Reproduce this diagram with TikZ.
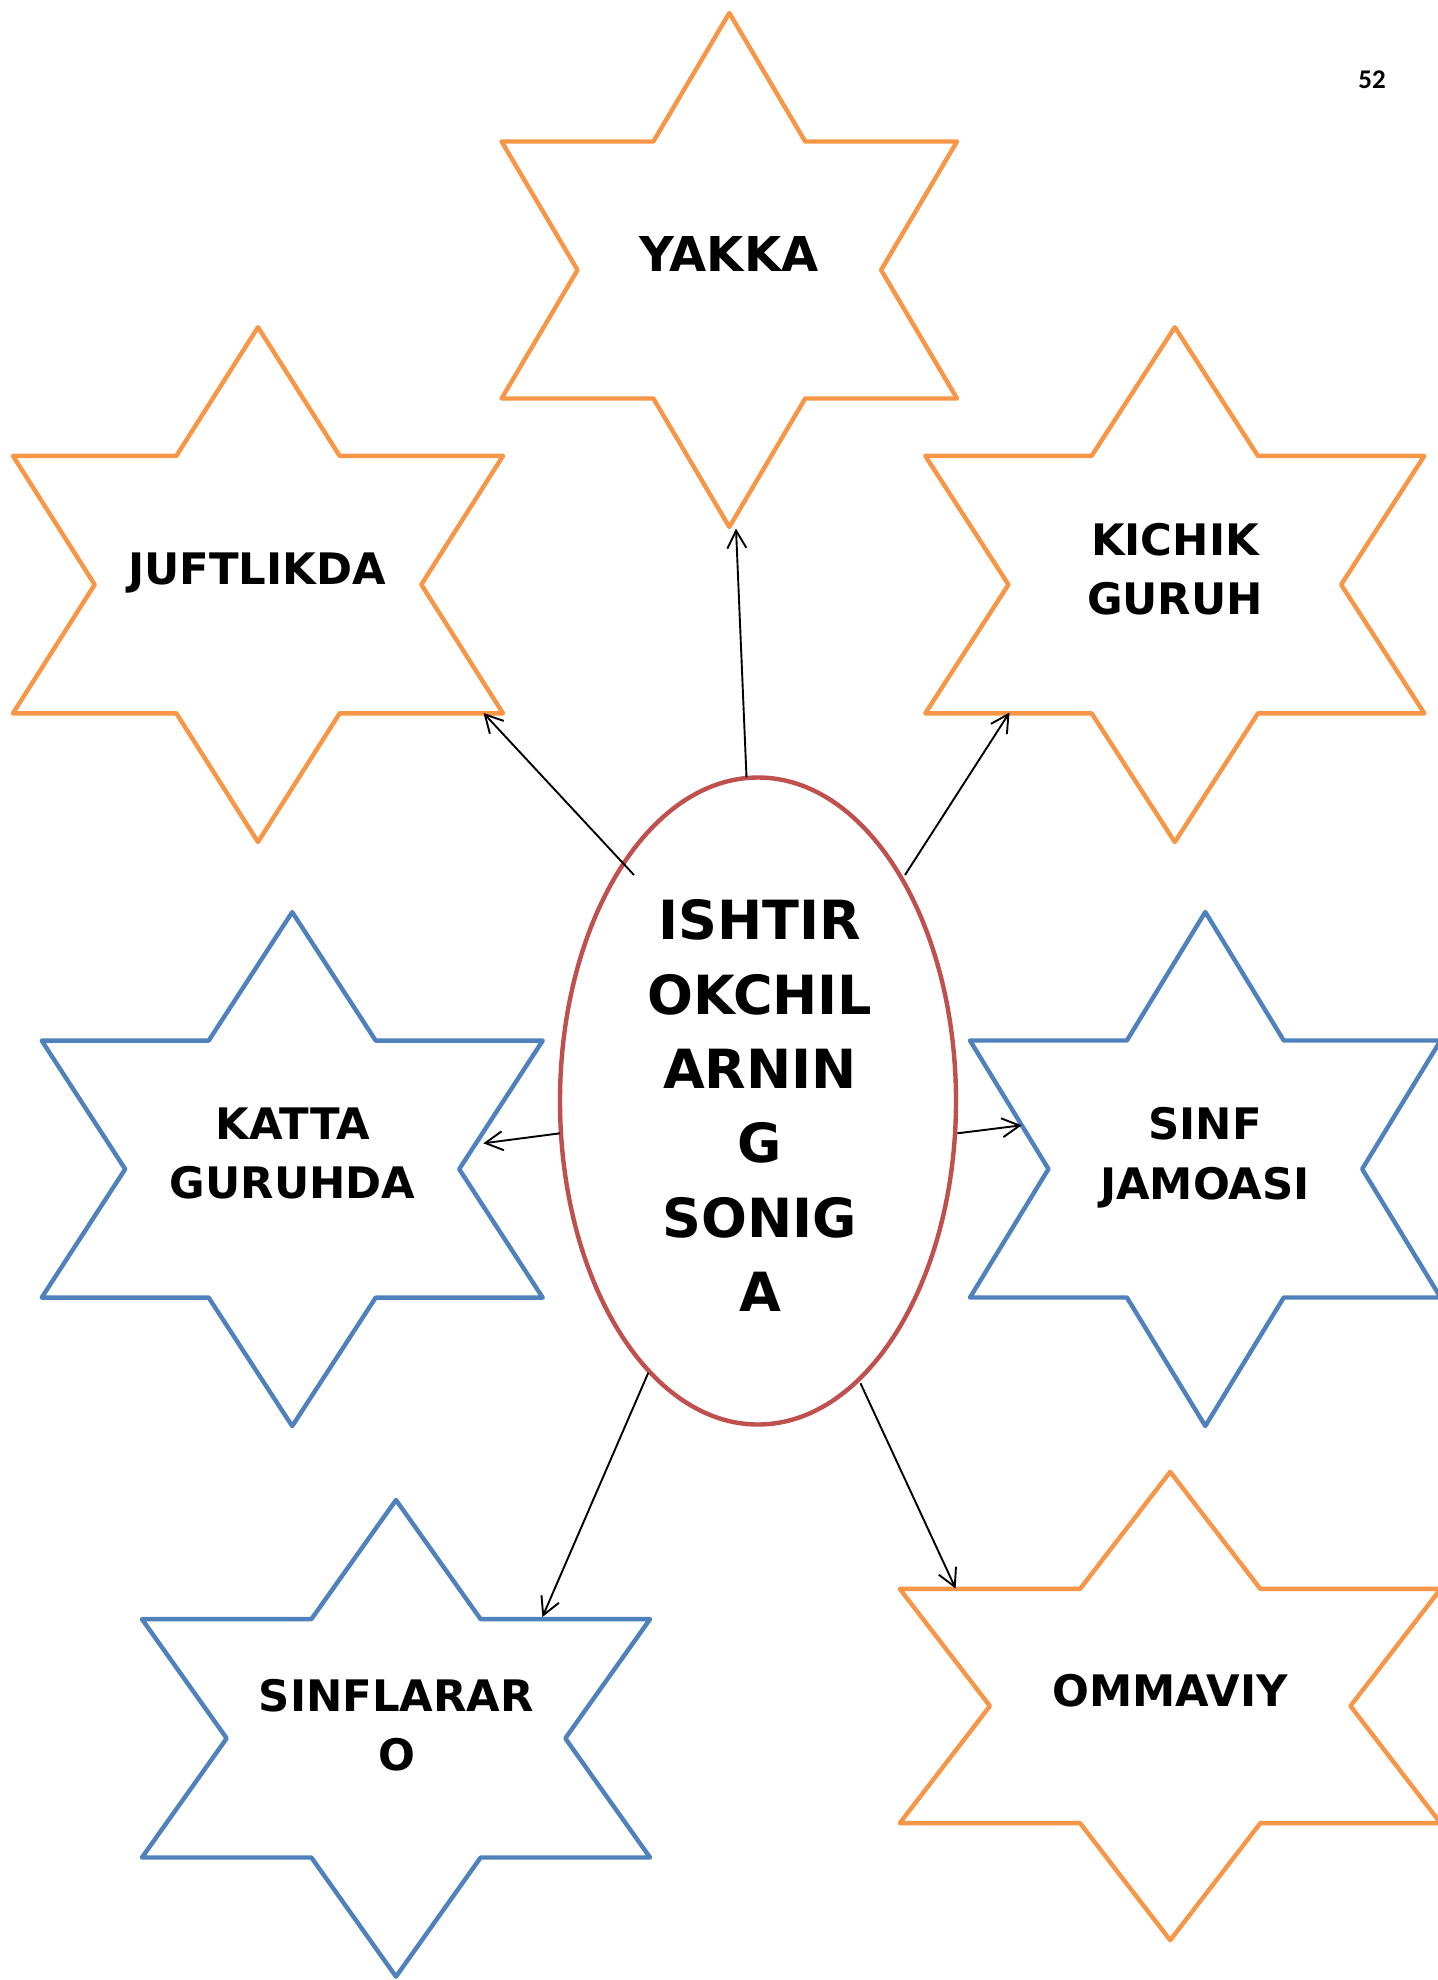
\documentclass[tikz,border=0pt]{standalone}
\usepackage{fontspec}
\setmainfont{DejaVu Sans}
\newfontfamily\pagenumfont{Carlito}
\usetikzlibrary{arrows.meta,shapes.geometric}
\definecolor{starorange}{HTML}{F79646}
\definecolor{starblue}{HTML}{4F81BD}
\definecolor{ellred}{HTML}{C0504D}
\tikzset{
  starline/.style={line width=2.2pt, line join=round},
  conn/.style={line width=0.95pt, black, -{Straight Barb[length=8.8pt,width=9.5pt]}},
  startext/.style={font=\bfseries\fontsize{21.7}{29.8}\selectfont, align=center, inner sep=0pt},
  bigtext/.style={font=\bfseries\fontsize{24}{28}\selectfont, align=center, inner sep=0pt},
  elltext/.style={font=\bfseries\fontsize{27}{37.2}\selectfont, align=center, inner sep=0pt},
}
% cx cy W H colour
\newcommand\hexstar[5]{%
  \draw[starline,draw=#5] (#1,{#2-#4}) -- ({#1+#3/3},{#2-#4/2}) -- ({#1+#3},{#2-#4/2})
    -- ({#1+2*#3/3},#2) -- ({#1+#3},{#2+#4/2}) -- ({#1+#3/3},{#2+#4/2})
    -- (#1,{#2+#4}) -- ({#1-#3/3},{#2+#4/2}) -- ({#1-#3},{#2+#4/2})
    -- ({#1-2*#3/3},#2) -- ({#1-#3},{#2-#4/2}) -- ({#1-#3/3},{#2-#4/2}) -- cycle;}
\begin{document}
\begin{tikzpicture}[x=0.5pt,y=-0.5pt]
\useasboundingbox[fill=white] (0,0) rectangle (1437,1980);

% stars
\hexstar{729.3}{270}{227.7}{257}{starorange}
\hexstar{258}{584.6}{245}{257.4}{starorange}
\hexstar{1174.8}{584.6}{249.5}{257.4}{starorange}
\hexstar{292.2}{1169.1}{250.5}{257}{starblue}
\hexstar{1205.3}{1169}{235.3}{257}{starblue}
\hexstar{396}{1738.3}{254}{238.3}{starblue}
\hexstar{1170.2}{1706}{270.4}{234.2}{starorange}

% central ellipse
\node[draw=ellred, line width=2.2pt, ellipse, minimum width=198pt, minimum height=323.5pt, inner sep=0pt] (ell) at (758,1101) {};
\node[elltext] (center) at (760,1105.7) {ISHTIR\\OKCHIL\\ARNIN\\G\\SONIG\\A};

% labels
\node[bigtext] (yakka) at (729,254.5) {YAKKA};
\node[startext] (juft) at (257,573) {JUFTLIKDA};
\node[startext] (kichik) at (1175,569.2) {KICHIK\\GURUH};
\node[startext] (katta) at (292.7,1153.3) {KATTA\\GURUHDA};
\node[startext] (sinf) at (1205,1157.5) {SINF\\JAMOASI};
\node[startext] (sinflar) at (396.5,1725) {SINFLARAR\\O};
\node[startext] (ommaviy) at (1170,1690.5) {OMMAVIY};
\node[font=\pagenumfont\bfseries\fontsize{13.5}{16}\selectfont, inner sep=0pt] (pagenum) at (1372,79.7) {52};

% connector ends
\coordinate (s1) at (746.5,777.3);   \coordinate (t1) at (736,528.6);
\coordinate (s2) at (634,875);       \coordinate (t2) at (483.5,713);
\coordinate (s3) at (905,875);       \coordinate (t3) at (1009.5,712.5);
\coordinate (s4) at (560,1133.3);    \coordinate (t4) at (483.3,1143.3);
\coordinate (s5) at (957.3,1133.3);  \coordinate (t5) at (1021.6,1125.3);
\coordinate (s6) at (648.3,1372.7);  \coordinate (t6) at (542.4,1617);
\coordinate (s7) at (860.5,1383.3);  \coordinate (t7) at (955.6,1588.5);

\draw[conn] (s1) -- (t1);
\draw[conn] (s2) -- (t2);
\draw[conn] (s3) -- (t3);
\draw[conn] (s4) -- (t4);
\draw[conn] (s5) -- (t5);
\draw[conn] (s6) -- (t6);
\draw[conn] (s7) -- (t7);
\end{tikzpicture}
\end{document}
